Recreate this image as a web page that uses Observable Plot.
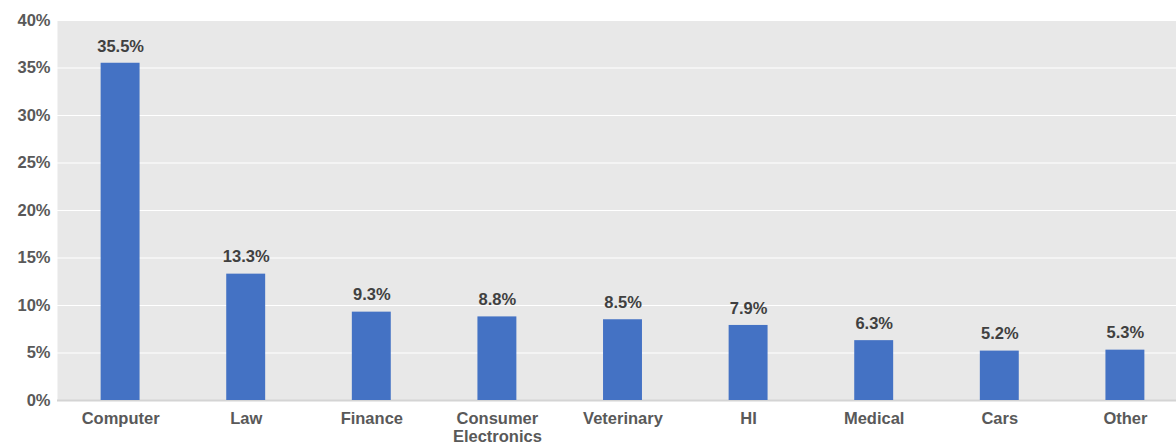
<!DOCTYPE html>
<html>
<head>
<meta charset="utf-8">
<script src="https://cdn.jsdelivr.net/npm/d3@7"></script>
<script src="https://cdn.jsdelivr.net/npm/@observablehq/plot@0.6"></script>
<style>
  html, body { margin: 0; padding: 0; background: #ffffff; }
  #chart svg { display: block; }
</style>
</head>
<body>
<div id="chart"></div>
<script>
const categories = ["Computer", "Law", "Finance", "Consumer\nElectronics", "Veterinary", "HI", "Medical", "Cars", "Other"];
const shares = [35.5, 13.3, 9.3, 8.8, 8.5, 7.9, 6.3, 5.2, 5.3];
const yTicks = [0, 5, 10, 15, 20, 25, 30, 35, 40];

const data = categories.map((c, i) => ({category: c, value: shares[i]}));

const chart = Plot.plot({
  width: 1176,
  height: 444,
  marginLeft: 57,
  marginRight: 0,
  marginTop: 20,
  marginBottom: 44,
  style: {fontFamily: "'Liberation Sans', Arial, sans-serif", fontSize: "16px", fontWeight: "bold", color: "#595959", background: "#ffffff"},
  x: {domain: categories, range: [57.3, 1187.7], round: false, paddingInner: 0.69, paddingOuter: 0.345, label: null},
  y: {domain: [0, 40], label: null},
  marks: [
    Plot.frame({fill: "#e8e8e8", stroke: null}),
    Plot.ruleY(yTicks.filter(d => d > 0), {stroke: "#ffffff", strokeWidth: 1.2}),
    Plot.ruleY([0], {stroke: "#d4d4d4", strokeWidth: 2}),
    Plot.barY(data, {x: "category", y: "value", fill: "#4472c4", insetLeft: 0, insetRight: 0}),
    Plot.text(data, {x: "category", y: "value", text: d => d.value.toFixed(1) + "%", dy: -17, fill: "#404040", fontSize: 16.5, fontWeight: "bold"}),
    Plot.axisY({ticks: yTicks, tickFormat: d => d + "%", tickSize: 0, tickPadding: 7, fontSize: 16.5, fill: "#595959"}),
    Plot.axisX({tickSize: 0, tickPadding: 11, fontSize: 16.5, fill: "#595959", lineHeight: 1.08})
  ]
});
document.getElementById("chart").appendChild(chart);
</script>
</body>
</html>
